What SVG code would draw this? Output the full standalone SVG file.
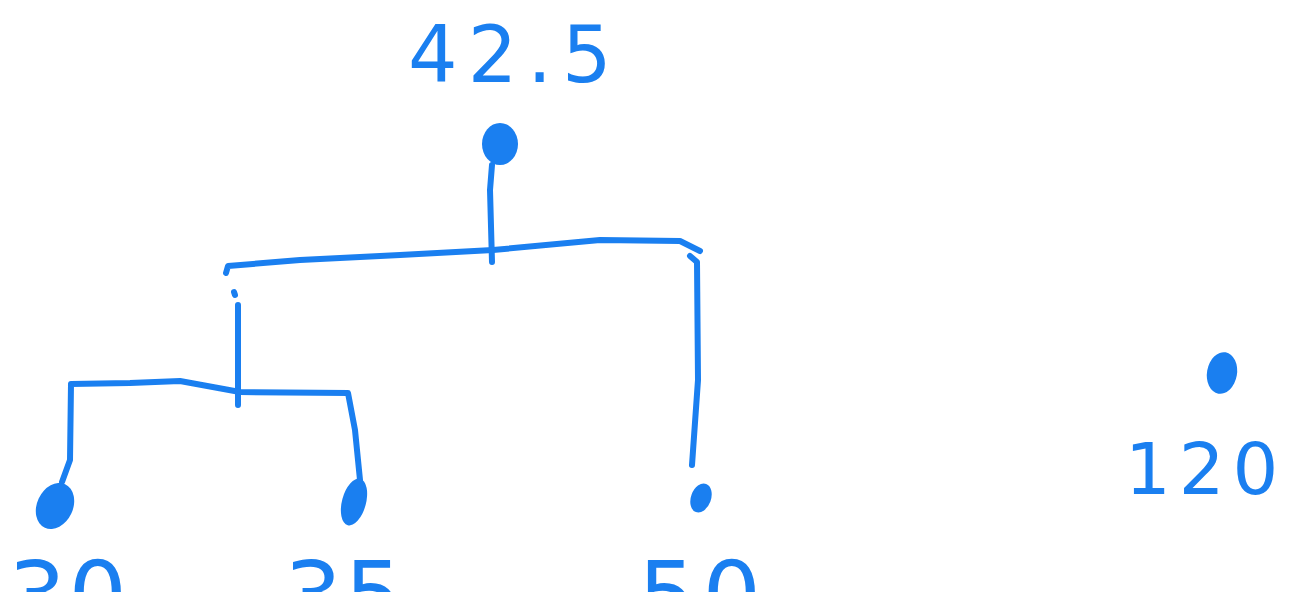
<svg xmlns="http://www.w3.org/2000/svg" width="1297" height="592" viewBox="0 0 1297 592">
<style>
.ln{fill:none;stroke:#1a7ff0;stroke-width:6;stroke-linecap:round;stroke-linejoin:round}
.dot{fill:#1a7ff0}
.t{fill:#1a7ff0;font-family:"DejaVu Sans",sans-serif;font-weight:normal}
</style>
<rect width="1297" height="592" fill="#ffffff"/>
<g id="connectors">
<path class="ln" d="M492,165 L490,190 L492,262"/>
<path class="ln" d="M226,273 L228,266 L300,260 L400,255 L493,250 L600,240 L680,241 L700,251"/>
<path class="ln" d="M690,256 L697,262 L698,380 L692,465"/>
<path class="ln" d="M234,292 L235,295 M238,305 L238,405"/>
<path class="ln" d="M62,482 L70,460 L71,384 L130,383 L180,381 L240,392 L348,393 L355,430 L360,480"/>
</g>
<g id="n-root"><ellipse class="dot" cx="500" cy="144" rx="18" ry="21"/>
<text class="t" x="408" y="82" font-size="78" letter-spacing="10">42.5</text></g>
<g id="n-30"><ellipse class="dot" cx="55" cy="506" rx="18" ry="24" transform="rotate(25 55 506)"/>
<text class="t" x="8" y="628" font-size="92" letter-spacing="2">30</text></g>
<g id="n-35"><ellipse class="dot" cx="354" cy="502" rx="12" ry="24" transform="rotate(15 354 502)"/>
<text class="t" x="284" y="628" font-size="92" letter-spacing="2">35</text></g>
<g id="n-50"><ellipse class="dot" cx="701" cy="498" rx="10" ry="15" transform="rotate(20 701 498)"/>
<text class="t" x="638" y="628" font-size="92" letter-spacing="6">50</text></g>
<g id="n-120"><ellipse class="dot" cx="1222" cy="373" rx="15" ry="21" transform="rotate(10 1222 373)"/>
<text class="t" x="1125" y="494" font-size="72" letter-spacing="8">120</text></g>
</svg>
